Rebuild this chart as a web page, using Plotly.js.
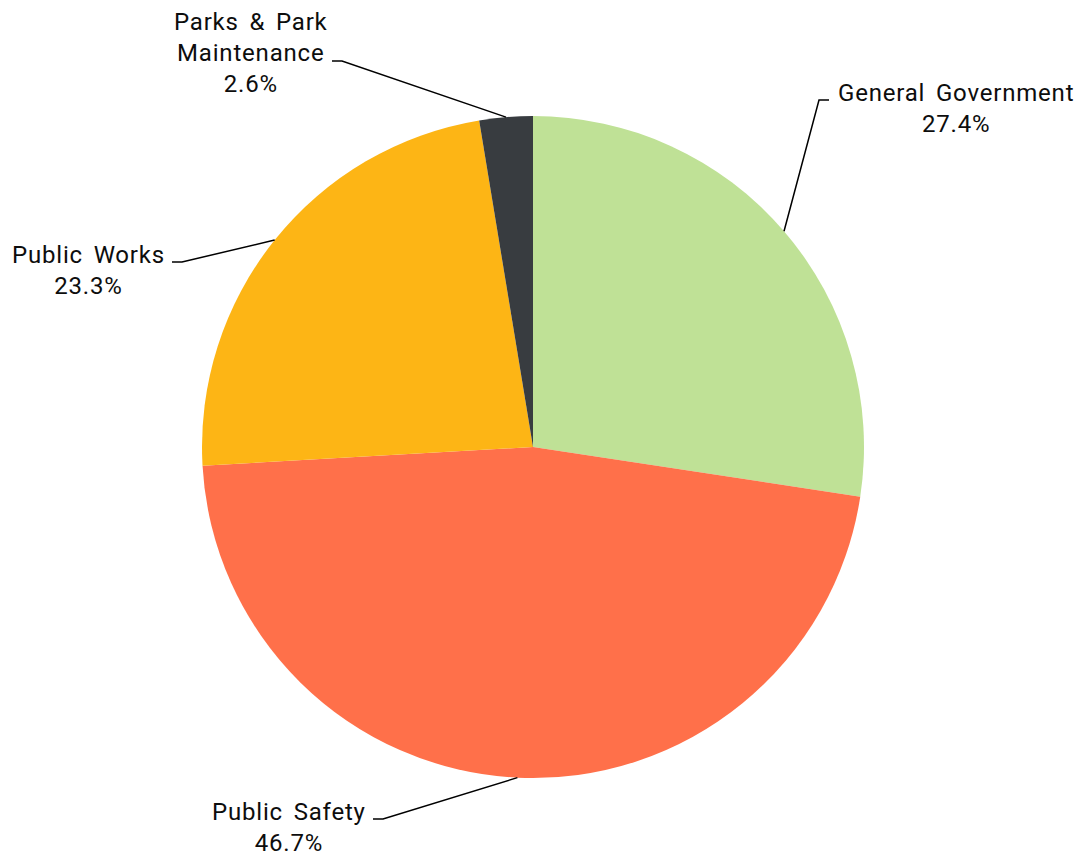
<!DOCTYPE html>
<html>
<head>
<meta charset="utf-8">
<script src="https://cdn.plot.ly/plotly-3.0.1.min.js"></script>
<style>
html,body{margin:0;padding:0;background:#fff;}
.annotation-text{letter-spacing:0.8px;word-spacing:4px;}
</style>
</head>
<body>
<div id="chart" style="width:1086px;height:861px;"></div>
<script>
// ---- data ----
const categories = ["General Government", "Public Safety", "Public Works", "Parks & Park<br>Maintenance"];
const shares = [27.4, 46.7, 23.3, 2.6];
const colors = ["#BFE196", "#FF704A", "#FDB515", "#383C40"];

// ---- layout config (pixels) ----
const W = 1086, H = 861;
const CX = 533, CY = 447, R = 331;
// elbow points and label text centres for each slice
const elbows = [[819, 100], [383, 819], [182, 262], [342, 61]];
const stubDir = [1, -1, -1, -1];
const textCenters = [[956, 109], [289, 827], [88, 270], [251, 53]];

const px = x => x / W;
const py = y => 1 - y / H;

const total = shares.reduce((a, b) => a + b, 0);
const shapes = [];
const annotations = [];
let cum = 0;
shares.forEach((v, i) => {
  const mid = (cum + v / 2) / total * 2 * Math.PI;
  cum += v;
  const sx = CX + R * Math.sin(mid);
  const sy = CY - R * Math.cos(mid);
  const [ex, ey] = elbows[i];
  const tx = ex + stubDir[i] * 10;
  shapes.push({
    type: "path", xref: "paper", yref: "paper",
    path: `M ${px(sx)} ${py(sy)} L ${px(ex)} ${py(ey)} L ${px(tx)} ${py(ey)}`,
    line: {color: "#000", width: 1.5}
  });
  annotations.push({
    xref: "paper", yref: "paper",
    x: px(textCenters[i][0]), y: py(textCenters[i][1]),
    xanchor: "center", yanchor: "middle", align: "center",
    showarrow: false,
    text: categories[i] + "<br>" + v.toFixed(1) + "%",
    font: {family: "Roboto, sans-serif", size: 24, color: "#0d0d0d"}
  });
});

const trace = {
  type: "pie",
  labels: categories,
  values: shares,
  sort: false,
  direction: "clockwise",
  rotation: 0,
  textinfo: "none",
  hoverinfo: "label+percent",
  marker: {colors: colors, line: {width: 0}},
  domain: {x: [px(CX - R), px(CX + R)], y: [py(CY + R), py(CY - R)]},
  showlegend: false
};

Plotly.newPlot("chart", [trace], {
  width: W, height: H,
  margin: {l: 0, r: 0, t: 0, b: 0},
  paper_bgcolor: "#fff",
  showlegend: false,
  shapes: shapes,
  annotations: annotations
}, {displayModeBar: false, staticPlot: true});
</script>
</body>
</html>
